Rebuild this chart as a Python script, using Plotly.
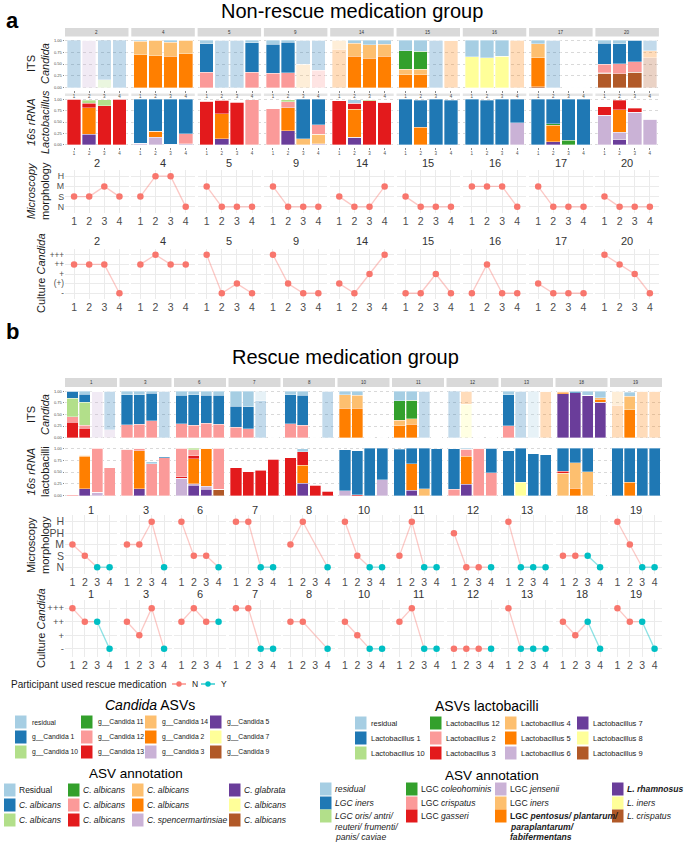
import plotly.graph_objects as go

W, H = 685, 844
FONT = "Liberation Sans, Arial, sans-serif"

# ---------------- palette / legend ----------------
PALETTE = ["#A6CEE3", "#1F78B4", "#B2DF8A", "#33A02C", "#FB9A99", "#E31A1C",
           "#FDBF6F", "#FF7F00", "#CAB2D6", "#6A3D9A", "#FFFF99", "#B15928"]
ITS_CODES = ["r", "c1", "c10", "c11", "c12", "c13", "c14", "c2", "c3", "c5", "c7", "c9"]
LAC_CODES = ["r", "L1", "L10", "L12", "L2", "L3", "L4", "L5", "L6", "L7", "L8", "L9"]
ITS_LABELS = ["residual", "g__Candida 1", "g__Candida 10", "g__Candida 11", "g__Candida 12",
              "g__Candida 13", "g__Candida 14", "g__Candida 2", "g__Candida 3", "g__Candida 5",
              "g__Candida 7", "g__Candida 9"]
LAC_LABELS = ["residual", "Lactobacillus 1", "Lactobacillus 10", "Lactobacillus 12",
              "Lactobacillus 2", "Lactobacillus 3", "Lactobacillus 4", "Lactobacillus 5",
              "Lactobacillus 6", "Lactobacillus 7", "Lactobacillus 8", "Lactobacillus 9"]
ITS_ANNOT = [(0, ["Residual"]), (1, ["<i>C. albicans</i>"]), (2, ["<i>C. albicans</i>"]),
             (3, ["<i>C. albicans</i>"]), (4, ["<i>C. albicans</i>"]), (5, ["<i>C. albicans</i>"]),
             (6, ["<i>C. albicans</i>"]), (7, ["<i>C. albicans</i>"]), (8, ["<i>C. spencermartinsiae</i>"]),
             (9, ["<i>C. glabrata</i>"]), (10, ["<i>C. albicans</i>"]), (11, ["<i>C. albicans</i>"])]
LAC_ANNOT = [(0, ["<i>residual</i>"]), (1, ["<i>LGC iners</i>"]),
             (2, ["<i>LGC oris/ antri/</i>", "<i>reuteri/ frumenti/</i>", "<i>panis/ caviae</i>"]),
             (3, ["LGC <i>coleohominis</i>"]), (4, ["LGC <i>crispatus</i>"]), (5, ["LGC <i>gasseri</i>"]),
             (8, ["LGC <i>jensenii</i>"]), (6, ["LGC <i>iners</i>"]),
             (7, ["<b>LGC <i>pentosus/ plantarum/</i></b>", "<b><i>paraplantarum/</i></b>", "<b><i>fabifermentans</i></b>"]),
             (9, ["<b><i>L. rhamnosus</i></b>"]), (10, ["<i>L. iners</i>"]), (11, ["<i>L. crispatus</i>"])]

# ---------------- data: part a (non-rescue) ----------------
A_PART = ["2", "4", "5", "9", "14", "15", "16", "17", "20"]
A_ITS = {
    "2": [{"c1": 1.0}, {"c3": 1.0}, {"c1": 0.83, "c10": 0.17}, {"c1": 1.0}],
    "4": [{"c2": 0.70, "c14": 0.28, "r": 0.02}, {"c2": 0.67, "c14": 0.33},
          {"c2": 0.66, "c14": 0.30, "r": 0.04}, {"c2": 0.72, "c14": 0.28}],
    "5": [{"c12": 0.33, "c1": 0.60, "r": 0.07}, {"c1": 1.0}, {"c1": 1.0},
          {"c12": 0.33, "c1": 0.62, "r": 0.05}],
    "9": [{"c12": 0.30, "c1": 0.62, "r": 0.08}, {"c12": 0.32, "c1": 0.64, "r": 0.04},
          {"c14": 0.50, "c1": 0.50}, {"c12": 0.37, "c1": 0.63}],
    "14": [{"c2": 0.81, "c14": 0.19}, {"c2": 0.66, "c14": 0.28, "r": 0.06},
           {"c2": 0.62, "c14": 0.29, "r": 0.09}, {"c2": 0.66, "c14": 0.26, "r": 0.08}],
    "15": [{"c2": 0.27, "c14": 0.12, "c11": 0.39, "r": 0.22},
           {"c2": 0.27, "c14": 0.12, "c11": 0.38, "r": 0.23}, {"c1": 1.0}, {"c2": 1.0}],
    "16": [{"c7": 0.65, "r": 0.35}, {"c7": 0.63, "r": 0.37}, {"c7": 0.66, "r": 0.34}, {"c2": 1.0}],
    "17": [{"c9": 0.02, "c2": 0.61, "c14": 0.30, "r": 0.07}, {"c1": 1.0}, {}, {}],
    "20": [{"c9": 0.30, "c13": 0.01, "c12": 0.19, "c1": 0.44, "r": 0.06},
           {"c9": 0.29, "c13": 0.01, "c12": 0.21, "c1": 0.42, "r": 0.07},
           {"c9": 0.33, "c13": 0.02, "c12": 0.20, "c1": 0.45},
           {"c9": 0.63, "c2": 0.15, "c1": 0.22}],
}
A_ITS_FADED = {"2": [1, 1, 1, 1], "4": [0, 0, 0, 0], "5": [0, 1, 1, 0], "9": [0, 0, 1, 1],
               "14": [1, 0, 0, 0], "15": [0, 0, 1, 1], "16": [0, 0, 0, 1], "17": [0, 1, 0, 0],
               "20": [0, 0, 0, 1]}
A_16S = {
    "2": [{"L3": 1.0}, {"L7": 0.23, "L5": 0.58, "L3": 0.10, "L10": 0.07},
          {"L3": 0.86, "L10": 0.13}, {"L3": 1.0}],
    "4": [{"L6": 0.03, "L1": 0.97}, {"L6": 0.17, "L5": 0.13, "L1": 0.70},
          {"L6": 0.01, "L1": 0.99}, {"L6": 0.02, "L2": 0.22, "L1": 0.76}],
    "5": [{"L3": 0.95, "L2": 0.01}, {"L7": 0.13, "L5": 0.55, "L3": 0.30}, {"L3": 0.93}, {"L2": 0.99}],
    "9": [{"L2": 0.79}, {"L7": 0.31, "L5": 0.50, "L3": 0.01, "L2": 0.13, "L10": 0.04},
          {"L4": 0.13, "L1": 0.87}, {"L6": 0.02, "L4": 0.21, "L2": 0.21, "L1": 0.56}],
    "14": [{"L3": 0.97}, {"L7": 0.15, "L6": 0.02, "L5": 0.61, "L3": 0.13, "r": 0.08},
           {"L3": 0.97, "L10": 0.02}, {"L3": 0.94}],
    "15": [{"L1": 1.0}, {"L5": 0.39, "L1": 0.59}, {"L1": 1.0}, {"L1": 0.98}],
    "16": [{"L1": 1.0}, {"L1": 0.98}, {"L1": 1.0}, {"L6": 0.48, "L1": 0.52}],
    "17": [{"L1": 1.0}, {"L7": 0.07, "L5": 0.36, "L12": 0.03, "L1": 0.54},
           {"L12": 0.10, "L1": 0.90}, {"L1": 1.0}],
    "20": [{"L6": 0.65, "L3": 0.19}, {"L7": 0.11, "L6": 0.17, "L5": 0.49, "L3": 0.21},
           {"L6": 0.71, "L3": 0.09}, {"L6": 0.56}],
}
A_MICRO_LEVELS = ["N", "S", "M", "H"]
A_MICRO = {"2": ["S", "S", "M", "S"], "4": ["S", "H", "H", "N"], "5": ["M", "N", "N", "N"],
           "9": ["M", "N", "N", "N"], "14": ["S", "N", "N", "M"], "15": ["S", "N", "N", "N"],
           "16": ["M", "M", "M", "N"], "17": ["M", "N", "N", "N"], "20": ["S", "N", "N", "N"]}
A_CULT_LEVELS = ["-", "(+)", "+", "++", "+++"]
A_CULT = {"2": ["++", "++", "++", "-"], "4": ["++", "+++", "++", "++"], "5": ["+++", "-", "(+)", "-"],
          "9": ["+++", "(+)", "-", "-"], "14": ["(+)", "-", "+", "+++"], "15": ["-", "-", "+", "-"],
          "16": ["-", "++", "-", "-"], "17": ["(+)", "-", "-", "-"], "20": ["+++", "++", "+", "-"]}

# ---------------- data: part b (rescue) ----------------
B_PART = ["1", "3", "6", "7", "8", "10", "11", "12", "13", "18", "19"]
B_ITS = {
    "1": [{"c13": 0.33, "c12": 0.12, "c10": 0.40, "c1": 0.15},
          {"c13": 0.20, "c12": 0.07, "c10": 0.49, "c1": 0.18, "r": 0.06},
          {"c3": 1.0}, {"c3": 0.17, "c1": 0.83}],
    "3": [{"c12": 0.28, "c1": 0.65, "r": 0.07}, {"c12": 0.29, "c1": 0.64, "r": 0.07},
          {"c12": 0.37, "c1": 0.59, "r": 0.04}, {"c1": 1.0}],
    "6": [{"c12": 0.30, "c1": 0.61, "r": 0.09}, {"c12": 0.27, "c1": 0.66, "r": 0.07},
          {"c12": 0.31, "c1": 0.61, "r": 0.08}, {"c12": 0.29, "c1": 0.63, "r": 0.08}],
    "7": [{"c12": 0.23, "c1": 0.45, "r": 0.32}, {"c12": 0.19, "c1": 0.48, "r": 0.33},
          {"c1": 0.80, "r": 0.20}, {}],
    "8": [{"c12": 0.30, "c1": 0.63, "r": 0.07}, {"c12": 0.27, "c1": 0.65, "r": 0.08}, {}, {"c1": 1.0}],
    "10": [{"c2": 0.64, "c14": 0.29, "r": 0.07}, {"c2": 0.64, "c14": 0.27, "r": 0.09}, {}, {}],
    "11": [{"c2": 0.26, "c14": 0.12, "c11": 0.42, "r": 0.20},
           {"c2": 0.29, "c14": 0.12, "c11": 0.40, "r": 0.19}, {"c1": 1.0}, {}],
    "12": [{"c1": 1.0}, {"c7": 0.72, "c2": 0.28}, {}, {}],
    "13": [{"c12": 0.26, "c1": 0.67, "r": 0.07}, {"c1": 1.0}, {"r": 1.0}, {"c2": 1.0}],
    "18": [{"c5": 0.95, "c2": 0.03, "c14": 0.02}, {"c5": 0.97, "c1": 0.03},
           {"c5": 0.91, "c3": 0.01, "r": 0.08}, {"c5": 0.76, "c2": 0.07, "c14": 0.03, "r": 0.14}],
    "19": [{"c2": 0.70, "c14": 0.30}, {"c2": 0.60, "c14": 0.29, "r": 0.09}, {"c2": 1.0}, {"c2": 1.0}],
}
B_ITS_FADED = {"1": [0, 0, 1, 1], "3": [0, 0, 0, 1], "6": [0, 0, 0, 0], "7": [0, 0, 1, 0],
               "8": [0, 0, 0, 1], "10": [0, 0, 0, 0], "11": [0, 0, 1, 0], "12": [1, 1, 0, 0],
               "13": [0, 1, 1, 1], "18": [0, 0, 0, 0], "19": [1, 0, 1, 1]}
B_16S = {
    "1": [{"L2": 0.02}, {"L7": 0.15, "L5": 0.68, "L4": 0.02, "r": 0.02},
          {"L6": 0.07, "L2": 0.93}, {"L2": 0.59}],
    "3": [{"L2": 0.98}, {"L7": 0.15, "L5": 0.80, "L2": 0.05}, {"L2": 0.67, "r": 0.05},
          {"L2": 0.80, "L1": 0.02}],
    "6": [{"L6": 0.37, "L3": 0.03, "L2": 0.60},
          {"L7": 0.22, "L6": 0.03, "L5": 0.53, "L3": 0.06, "L2": 0.13, "L10": 0.03},
          {"L7": 0.14, "L6": 0.06, "L5": 0.80}, {"L9": 0.13, "L2": 0.87}],
    "7": [{"L3": 0.59}, {"L3": 0.51}, {"L3": 0.54, "L2": 0.01}, {"L3": 0.77}],
    "8": [{"L3": 0.80}, {"L7": 0.26, "L5": 0.38, "L3": 0.29, "r": 0.06}, {"L3": 0.22}, {"L3": 0.09}],
    "10": [{"L6": 0.10, "L1": 0.87}, {"L3": 0.02, "L1": 0.93}, {"L1": 1.0}, {"L6": 0.34, "L1": 0.66}],
    "11": [{"L1": 0.98}, {"L7": 0.11, "L5": 0.56, "L1": 0.33}, {"L4": 0.15, "L1": 0.85}, {"L1": 0.99}],
    "12": [{"L2": 0.14, "L1": 0.85}, {"L7": 0.24, "L5": 0.59, "L2": 0.15, "r": 0.02},
           {"L2": 1.0}, {"L2": 0.48, "L1": 0.52}],
    "13": [{"L1": 0.95}, {"L8": 0.28, "L1": 0.72}, {"L1": 0.89}, {"L1": 0.86}],
    "18": [{"L4": 0.47, "L3": 0.05, "L1": 0.48}, {"L5": 0.16, "L4": 0.54, "L1": 0.30},
           {"L4": 0.51, "L1": 0.49}, {}],
    "19": [{"L1": 1.0}, {"L5": 0.28, "L1": 0.72}, {"L1": 1.0}, {"L1": 1.0}],
}
B_MICRO_LEVELS = ["N", "S", "M", "PH", "H"]
B_MICRO = {"1": ["M", "S", "N", "N"], "3": ["M", "M", "H", "N"], "6": ["H", "S", "S", "N"],
           "7": ["H", "H", "N", "N"], "8": ["M", "H", None, "N"], "10": ["H", "S", "N", "N"],
           "11": ["S", "H", "N", "N"], "12": ["PH", "N", "N", "N"], "13": ["H", "N", "N", "N"],
           "18": ["S", "S", "S", "N"], "19": ["H", "M", "N", "N"]}
B_CULT_LEVELS = ["-", "+", "++", "+++"]
B_CULT = {"1": ["+++", "++", "++", "-"], "3": ["++", "+", "+++", "-"], "6": ["++", "+++", "++", "++"],
          "7": ["+++", "+++", "-", "-"], "8": ["++", "++", None, "-"], "10": ["++", "+", "-", "-"],
          "11": ["++", "+++", "-", "-"], "12": ["-", "-", "-", "-"], "13": ["+++", "-", "-", "-"],
          "18": ["++", "+", "++", "-"], "19": ["+++", "++", "++", "-"]}
B_RESCUE = {"1": "NNYY", "3": "NNNY", "6": "NNNY", "7": "NNYY", "8": "NNNY", "10": "NNYY",
            "11": "NNYY", "12": "NNNY", "13": "NYYY", "18": "NNYY", "19": "NNYY"}

# ---------------- helpers ----------------
ALPHA = 0.27
PT_COL = {"N": "#F8766D", "Y": "#00BFC4"}
LN_COL = {"N": "rgba(248,118,109,0.40)", "Y": "rgba(0,191,196,0.45)"}
TXT = "#1A1A1A"
TICK = "#4D4D4D"


def rgba(hexc, a):
    return "rgba(%d,%d,%d,%.3f)" % (int(hexc[1:3], 16), int(hexc[3:5], 16), int(hexc[5:7], 16), a)


traces, shapes, annots = [], [], []
axes = {}
counter = [0]


def new_axes(x0, x1, y0, y1, xa, ya):
    counter[0] += 1
    n = counter[0]
    s = "" if n == 1 else str(n)
    xa = dict(xa, domain=[x0 / W, x1 / W], anchor="y" + s, automargin=False, fixedrange=True)
    ya = dict(ya, domain=[1 - y1 / H, 1 - y0 / H], anchor="x" + s, automargin=False, fixedrange=True)
    axes["xaxis" + s] = xa
    axes["yaxis" + s] = ya
    return "x" + s, "y" + s


def text(x, y, s, size, xanchor="center", color=TXT, angle=0, yanchor="middle"):
    annots.append(dict(x=x / W, y=1 - y / H, xref="paper", yref="paper", text=s, showarrow=False,
                       font=dict(size=size, color=color, family=FONT), xanchor=xanchor,
                       yanchor=yanchor, textangle=angle, borderpad=0))


def rect(x0, y0, x1, y1, fill, layer="above"):
    shapes.append(dict(type="rect", xref="paper", yref="paper", x0=x0 / W, x1=x1 / W,
                       y0=1 - y1 / H, y1=1 - y0 / H, fillcolor=fill, line=dict(width=0), layer=layer))


def bar_panel(x0, x1, y0, y1, samples, faded, codes, first, xlabels):
    xa = dict(range=[0.4, 4.6], tickvals=[1, 2, 3, 4], ticktext=["1", "2", "3", "4"],
              showticklabels=xlabels, tickfont=dict(size=4.5, color=TICK, family=FONT),
              ticks="outside" if xlabels else "", ticklen=1.5, tickcolor="#888", tickwidth=0.5,
              showgrid=False, zeroline=False, showline=False)
    ya = dict(range=[-0.05, 1.05], tickvals=[0, 0.25, 0.5, 0.75, 1],
              ticktext=["0.00", "0.25", "0.50", "0.75", "1.00"], showticklabels=first,
              tickfont=dict(size=4, color=TICK, family=FONT), ticks="outside" if first else "",
              ticklen=1.5, tickcolor="#888", tickwidth=0.5, showgrid=True, gridcolor="#D9D9D9",
              griddash="dot", gridwidth=0.6, zeroline=False, showline=False)
    xr, yr = new_axes(x0, x1, y0, y1, xa, ya)
    for idx in range(11, -1, -1):
        code = codes[idx]
        vals = [s.get(code, 0) for s in samples]
        if not any(vals):
            continue
        cols = [rgba(PALETTE[idx], ALPHA if f else 1.0) for f in faded]
        traces.append(go.Bar(x=[1, 2, 3, 4], y=vals, width=0.9, xaxis=xr, yaxis=yr,
                             marker=dict(color=cols, line=dict(color="rgba(255,255,255,0.7)", width=0.5)),
                             showlegend=False, hoverinfo="skip"))


def line_panel(x0, x1, y0, y1, vals, levels, rescue, first, title, title_y, ysize):
    ymap = {l: i + 1 for i, l in enumerate(levels)}
    ys = [ymap[v] if v is not None else None for v in vals]
    xa = dict(range=[0.4, 4.6], tickvals=[1, 2, 3, 4], ticktext=["1", "2", "3", "4"],
              tickfont=dict(size=10.5, color=TICK, family=FONT), showgrid=True, gridcolor="#EBEBEB",
              gridwidth=1, zeroline=False, showline=False, ticks="")
    ya = dict(range=[0.4, len(levels) + 0.6], tickvals=list(range(1, len(levels) + 1)),
              ticktext=levels, showticklabels=first, tickfont=dict(size=ysize, color=TICK, family=FONT),
              showgrid=True, gridcolor="#EBEBEB", gridwidth=1, zeroline=False, showline=False, ticks="")
    xr, yr = new_axes(x0, x1, y0, y1, xa, ya)
    pts = [(i + 1, y, rescue[i]) for i, y in enumerate(ys) if y is not None]
    for (xa_, ya_, ra), (xb, yb, rb) in zip(pts[:-1], pts[1:]):
        traces.append(go.Scatter(x=[xa_, xb], y=[ya_, yb], mode="lines", xaxis=xr, yaxis=yr,
                                 line=dict(color=LN_COL[ra], width=1.3), showlegend=False, hoverinfo="skip"))
    for grp in "NY":
        px_ = [p[0] for p in pts if p[2] == grp]
        py_ = [p[1] for p in pts if p[2] == grp]
        if px_:
            traces.append(go.Scatter(x=px_, y=py_, mode="markers", xaxis=xr, yaxis=yr,
                                     marker=dict(color=PT_COL[grp], size=6.5), showlegend=False,
                                     hoverinfo="skip"))
    text((x0 + x1) / 2, title_y, title, 11, color="#333333")


# ---------------- part a ----------------
text(12, 20, "<b>a</b>", 22, color="#000")
text(352, 11, "Non-rescue medication group", 20, color="#000")
A_X0, A_PITCH, A_W = 65, 66.3, 63.5
for i, p in enumerate(A_PART):
    x0 = A_X0 + i * A_PITCH
    x1 = x0 + A_W
    rect(x0, 28, x1, 36.5, "#D9D9D9", "below")
    text((x0 + x1) / 2, 32.3, p, 4.5, color="#333333")
    bar_panel(x0, x1, 38, 90, A_ITS[p], A_ITS_FADED[p], ITS_CODES, i == 0, True)
    rect(x0, 93.5, x1, 96, "#E5E5E5", "below")
    bar_panel(x0, x1, 97, 147, A_16S[p], [0, 0, 0, 0], LAC_CODES, i == 0, True)
    line_panel(x0, x1, 170, 213, A_MICRO[p], A_MICRO_LEVELS, "NNNN", i == 0, p, 163, 8.8)
    line_panel(x0, x1, 249, 299, A_CULT[p], A_CULT_LEVELS, "NNNN", i == 0, p, 241, 8.2)

text(38, 64, "ITS<br><i>Candida</i>", 11, angle=-90)
text(38, 122, "<i>16s rRNA</i><br><i>Lactobacillus</i>", 11, angle=-90)
text(38, 191, "<i>Microscopy</i><br>morphology", 11, angle=-90)
text(41, 273, "Culture <i>Candida</i>", 11, angle=-90)

# ---------------- part b ----------------
text(12, 331, "<b>b</b>", 22, color="#000")
text(345, 357, "Rescue medication group", 20, color="#000")
B_X0, B_PITCH, B_W = 65, 54.5, 52
for i, p in enumerate(B_PART):
    x0 = B_X0 + i * B_PITCH
    x1 = x0 + B_W
    rect(x0, 378, x1, 387, "#D9D9D9", "below")
    text((x0 + x1) / 2, 382.5, p, 4.5, color="#333333")
    bar_panel(x0, x1, 389, 440, B_ITS[p], B_ITS_FADED[p], ITS_CODES, i == 0, False)
    bar_panel(x0, x1, 446, 498, B_16S[p], [0, 0, 0, 0], LAC_CODES, i == 0, False)
    line_panel(x0, x1, 515, 574, B_MICRO[p], B_MICRO_LEVELS, B_RESCUE[p], i == 0, p, 510, 10.5)
    line_panel(x0, x1, 600, 657, B_CULT[p], B_CULT_LEVELS, B_RESCUE[p], i == 0, p, 594, 9.5)

text(38, 415, "ITS<br><i>Candida</i>", 11, angle=-90)
text(38, 472, "<i>16s rRNA</i><br>lactobacilli", 11, angle=-90)
text(38, 545, "Microscopy<br>morphology", 11, angle=-90)
text(41, 628, "Culture <i>Candida</i>", 11, angle=-90)

# ---------------- legends ----------------
text(10, 684, "Participant used rescue medication", 10, xanchor="left")
for xk, grp in [(172, "N"), (201, "Y")]:
    shapes.append(dict(type="line", xref="paper", yref="paper", x0=xk / W, x1=(xk + 14) / W,
                       y0=1 - 684 / H, y1=1 - 684 / H, line=dict(color=PT_COL[grp], width=1.2)))
    shapes.append(dict(type="circle", xref="paper", yref="paper", x0=(xk + 4.3) / W, x1=(xk + 9.7) / W,
                       y0=1 - 686.7 / H, y1=1 - 681.3 / H, fillcolor=PT_COL[grp], line=dict(width=0)))
    text(xk + 19, 684, grp, 8.5, xanchor="left")


def key_grid(title, tx, ty, tsize, col_x, rows_y, entries, size, lab_dx, line_h=14.5):
    text(tx, ty, title, tsize, color="#000")
    for k, (idx, lines) in enumerate(entries):
        c, r = divmod(k, 3)
        kx, ky = col_x[c], rows_y[r]
        rect(kx, ky - 6.5, kx + 11.5, ky + 6.5, PALETTE[idx])
        for j, ln in enumerate(lines):
            text(kx + lab_dx, ky + j * line_h, ln, size, xanchor="left")


key_grid("<i>Candida</i> ASVs", 150, 705, 14, [15, 81, 145, 210], [722, 737, 752],
         [(i, [ITS_LABELS[i]]) for i in range(12)], 6.8, 16)
key_grid("ASV annotation", 136, 773, 13.5, [4, 68, 132, 229], [790, 805, 820], ITS_ANNOT, 8.5, 14)
key_grid("ASVs lactobacilli", 487, 706, 14, [355, 430, 505, 577], [723, 738, 753],
         [(i, [LAC_LABELS[i]]) for i in range(12)], 7.5, 15)
key_grid("ASV annotation", 492, 775, 13.5, [320, 406, 495, 612], [789, 803, 816], LAC_ANNOT, 8.6, 14, 10.5)

fig = go.Figure(data=traces)
fig.update_layout(**axes)
fig.update_layout(width=W, height=H, autosize=False, margin=dict(l=0, r=0, t=0, b=0, pad=0),
                  template="none", barmode="stack", bargap=0.1, showlegend=False, hovermode=False,
                  paper_bgcolor="white", plot_bgcolor="white", shapes=shapes, annotations=annots,
                  font=dict(family=FONT, color=TXT))
fig.write_html("out.html", config={"displayModeBar": False},
               post_script="document.body.style.margin='0px';document.body.style.padding='0px';")
